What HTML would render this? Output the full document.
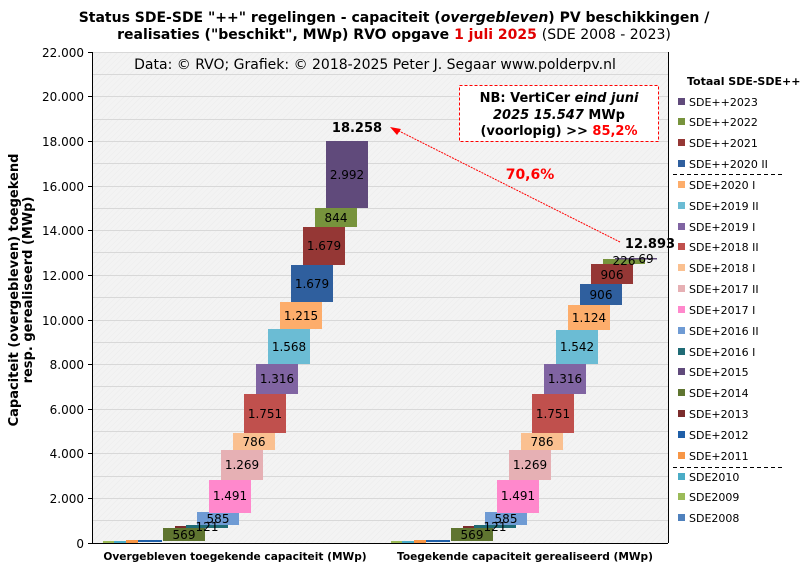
<!DOCTYPE html>
<html><head><meta charset="utf-8"><style>
body{margin:0;background:#fff}
svg{display:block;font-family:"DejaVu Sans","Liberation Sans",sans-serif}
</style></head><body>
<svg width="804" height="571" viewBox="0 0 804 571" xmlns="http://www.w3.org/2000/svg">
<defs><pattern id="hatch" width="4" height="4" patternUnits="userSpaceOnUse" patternTransform="rotate(45)"><rect width="4" height="4" fill="#f3f3f3"/><line x1="0" y1="0" x2="0" y2="4" stroke="#ebebeb" stroke-width="1"/></pattern></defs>
<rect x="92" y="52" width="576" height="491" fill="url(#hatch)"/>
<g stroke="#d8d8d8" stroke-width="1">
<line x1="92" x2="668" y1="52.5" y2="52.5"/><line x1="92" x2="668" y1="74.5" y2="74.5"/><line x1="92" x2="668" y1="96.5" y2="96.5"/><line x1="92" x2="668" y1="119.5" y2="119.5"/><line x1="92" x2="668" y1="141.5" y2="141.5"/><line x1="92" x2="668" y1="163.5" y2="163.5"/><line x1="92" x2="668" y1="186.5" y2="186.5"/><line x1="92" x2="668" y1="208.5" y2="208.5"/><line x1="92" x2="668" y1="230.5" y2="230.5"/><line x1="92" x2="668" y1="252.5" y2="252.5"/><line x1="92" x2="668" y1="275.5" y2="275.5"/><line x1="92" x2="668" y1="297.5" y2="297.5"/><line x1="92" x2="668" y1="320.5" y2="320.5"/><line x1="92" x2="668" y1="342.5" y2="342.5"/><line x1="92" x2="668" y1="364.5" y2="364.5"/><line x1="92" x2="668" y1="386.5" y2="386.5"/><line x1="92" x2="668" y1="409.5" y2="409.5"/><line x1="92" x2="668" y1="431.5" y2="431.5"/><line x1="92" x2="668" y1="453.5" y2="453.5"/><line x1="92" x2="668" y1="476.5" y2="476.5"/><line x1="92" x2="668" y1="498.5" y2="498.5"/><line x1="92" x2="668" y1="520.5" y2="520.5"/>
</g>
<line x1="92.5" y1="52" x2="92.5" y2="543" stroke="#000"/>
<line x1="92" y1="543.5" x2="668" y2="543.5" stroke="#000"/>
<line x1="668.5" y1="52" x2="668.5" y2="543" stroke="#000"/>
<g stroke="#000"><line x1="88" x2="92" y1="52.5" y2="52.5"/><line x1="88" x2="92" y1="96.5" y2="96.5"/><line x1="88" x2="92" y1="141.5" y2="141.5"/><line x1="88" x2="92" y1="186.5" y2="186.5"/><line x1="88" x2="92" y1="230.5" y2="230.5"/><line x1="88" x2="92" y1="275.5" y2="275.5"/><line x1="88" x2="92" y1="320.5" y2="320.5"/><line x1="88" x2="92" y1="364.5" y2="364.5"/><line x1="88" x2="92" y1="409.5" y2="409.5"/><line x1="88" x2="92" y1="453.5" y2="453.5"/><line x1="88" x2="92" y1="498.5" y2="498.5"/><line x1="88" x2="92" y1="543.5" y2="543.5"/></g>
<g font-size="12" text-anchor="end" fill="#000">
<text x="84" y="57">22.000</text><text x="84" y="101">20.000</text><text x="84" y="146">18.000</text><text x="84" y="191">16.000</text><text x="84" y="235">14.000</text><text x="84" y="280">12.000</text><text x="84" y="325">10.000</text><text x="84" y="369">8.000</text><text x="84" y="414">6.000</text><text x="84" y="458">4.000</text><text x="84" y="503">2.000</text><text x="84" y="548">0</text>
</g>
<text transform="translate(18,290) rotate(-90)" font-size="13" font-weight="bold" text-anchor="middle">Capaciteit (overgebleven) toegekend</text>
<text transform="translate(32,290) rotate(-90)" font-size="13" font-weight="bold" text-anchor="middle">resp. gerealiseerd (MWp)</text>
<text x="394" y="22" font-size="14" font-weight="bold" text-anchor="middle">Status SDE-SDE "++" regelingen - capaciteit (<tspan font-style="italic">overgebleven</tspan>) PV beschikkingen  /</text>
<text x="394" y="39" font-size="14" font-weight="bold" text-anchor="middle">realisaties ("beschikt", MWp) RVO opgave <tspan fill="#e00000">1 juli 2025</tspan> <tspan font-weight="normal">(SDE 2008 - 2023)</tspan></text>
<text x="375" y="69" font-size="14" text-anchor="middle">Data: © RVO; Grafiek: © 2018-2025 Peter J. Segaar www.polderpv.nl</text>
<g>
<rect x="103" y="541" width="11" height="2" fill="#9bbb59"/><rect x="114" y="541" width="12" height="2" fill="#4bacc6"/><rect x="126" y="540" width="12" height="3" fill="#f79646"/><rect x="138" y="540" width="24" height="2" fill="#1f5fa8"/>
<rect x="163" y="528" width="42" height="13" fill="#5f7530"/>
<rect x="175" y="526" width="30" height="2" fill="#7b2c2c"/>
<rect x="186" y="525" width="42" height="3" fill="#1f6b75"/>
<rect x="197" y="512" width="42" height="13" fill="#6f9bd4"/>
<rect x="209" y="480" width="42" height="33" fill="#ff88cc"/>
<rect x="221" y="450" width="42" height="30" fill="#e6b0b4"/>
<rect x="233" y="433" width="42" height="17" fill="#fac090"/>
<rect x="244" y="394" width="42" height="39" fill="#c0504d"/>
<rect x="256" y="364" width="42" height="30" fill="#8064a2"/>
<rect x="268" y="329" width="42" height="35" fill="#6bbcd4"/>
<rect x="280" y="302" width="42" height="27" fill="#fdad6b"/>
<rect x="291" y="265" width="42" height="37" fill="#2f5f9e"/>
<rect x="303" y="227" width="42" height="38" fill="#953735"/>
<rect x="315" y="208" width="42" height="19" fill="#77933c"/>
<rect x="326" y="141" width="42" height="67" fill="#604a7b"/>
</g>
<g font-size="12" text-anchor="middle" fill="#000">
<text x="184" y="539">569</text><text x="207" y="531">121</text><text x="218" y="523">585</text><text x="230" y="500">1.491</text><text x="242" y="469">1.269</text><text x="254" y="446">786</text><text x="265" y="418">1.751</text><text x="277" y="383">1.316</text><text x="289" y="351">1.568</text><text x="301" y="320">1.215</text><text x="312" y="288">1.679</text><text x="324" y="250">1.679</text><text x="336" y="222">844</text><text x="347" y="179">2.992</text>
</g>
<text x="357" y="132" font-size="13" font-weight="bold" text-anchor="middle">18.258</text>
<g>
<rect x="391" y="541" width="11" height="2" fill="#9bbb59"/><rect x="402" y="541" width="12" height="2" fill="#4bacc6"/><rect x="414" y="540" width="12" height="3" fill="#f79646"/><rect x="426" y="540" width="24" height="2" fill="#1f5fa8"/>
<rect x="451" y="528" width="42" height="13" fill="#5f7530"/>
<rect x="463" y="526" width="30" height="2" fill="#7b2c2c"/>
<rect x="474" y="525" width="42" height="3" fill="#1f6b75"/>
<rect x="485" y="512" width="42" height="13" fill="#6f9bd4"/>
<rect x="497" y="480" width="42" height="33" fill="#ff88cc"/>
<rect x="509" y="450" width="42" height="30" fill="#e6b0b4"/>
<rect x="521" y="433" width="42" height="17" fill="#fac090"/>
<rect x="532" y="394" width="42" height="39" fill="#c0504d"/>
<rect x="544" y="364" width="42" height="30" fill="#8064a2"/>
<rect x="556" y="330" width="42" height="34" fill="#6bbcd4"/>
<rect x="568" y="305" width="42" height="25" fill="#fdad6b"/>
<rect x="580" y="284" width="42" height="21" fill="#2f5f9e"/>
<rect x="591" y="264" width="42" height="20" fill="#953735"/>
<rect x="603" y="259" width="42" height="5" fill="#77933c"/>
<rect x="615" y="258" width="42" height="1.5" fill="#604a7b"/>
</g>
<g font-size="12" text-anchor="middle" fill="#000">
<text x="472" y="539">569</text><text x="495" y="531">121</text><text x="506" y="523">585</text><text x="518" y="500">1.491</text><text x="530" y="469">1.269</text><text x="542" y="446">786</text><text x="553" y="418">1.751</text><text x="565" y="383">1.316</text><text x="577" y="351">1.542</text><text x="589" y="322">1.124</text><text x="601" y="299">906</text><text x="612" y="279">906</text><text x="624" y="265">226</text><text x="646" y="263">69</text>
</g>
<text x="650" y="248" font-size="13" font-weight="bold" text-anchor="middle">12.893</text>
<line x1="620" y1="242" x2="395" y2="129" stroke="#ff0000" stroke-width="1" stroke-dasharray="2,1"/>
<polygon points="390,127 401,129 397,135" fill="#ff0000"/>
<text x="530" y="179" font-size="14" font-weight="bold" fill="#ff0000" text-anchor="middle">70,6%</text>
<rect x="459.5" y="85.5" width="199" height="56" fill="#fff" stroke="#ff0000" stroke-dasharray="3,2"/>
<g font-size="13" font-weight="bold" text-anchor="middle">
<text x="559" y="102">NB: VertiCer <tspan font-style="italic">eind juni</tspan></text>
<text x="559" y="119"><tspan font-style="italic">2025 15.547</tspan> MWp</text>
<text x="559" y="135">(voorlopig) &gt;&gt; <tspan fill="#ff0000">85,2%</tspan></text>
</g>
<g font-size="10.6" font-weight="bold" text-anchor="middle">
<text x="235" y="560">Overgebleven toegekende capaciteit (MWp)</text>
<text x="525" y="560">Toegekende capaciteit gerealiseerd (MWp)</text>
</g>
<text x="687" y="85" font-size="11" font-weight="bold">Totaal SDE-SDE++</text>
<g font-size="11">
<rect x="678" y="98" width="7" height="7" fill="#604a7b"/><text x="689" y="106">SDE++2023</text>
<rect x="678" y="118" width="7" height="7" fill="#77933c"/><text x="689" y="126">SDE++2022</text>
<rect x="678" y="139" width="7" height="7" fill="#953735"/><text x="689" y="147">SDE++2021</text>
<rect x="678" y="160" width="7" height="7" fill="#2f5f9e"/><text x="689" y="168">SDE++2020 II</text>
<line x1="673" y1="174.5" x2="783" y2="174.5" stroke="#000" stroke-dasharray="4,3"/>
<rect x="678" y="181" width="7" height="7" fill="#fdad6b"/><text x="689" y="189">SDE+2020 I</text>
<rect x="678" y="202" width="7" height="7" fill="#6bbcd4"/><text x="689" y="210">SDE+2019 II</text>
<rect x="678" y="223" width="7" height="7" fill="#8064a2"/><text x="689" y="231">SDE+2019 I</text>
<rect x="678" y="243" width="7" height="7" fill="#c0504d"/><text x="689" y="251">SDE+2018 II</text>
<rect x="678" y="264" width="7" height="7" fill="#fac090"/><text x="689" y="272">SDE+2018 I</text>
<rect x="678" y="285" width="7" height="7" fill="#e6b0b4"/><text x="689" y="293">SDE+2017 II</text>
<rect x="678" y="306" width="7" height="7" fill="#ff88cc"/><text x="689" y="314">SDE+2017 I</text>
<rect x="678" y="327" width="7" height="7" fill="#6f9bd4"/><text x="689" y="335">SDE+2016 II</text>
<rect x="678" y="348" width="7" height="7" fill="#1f6b75"/><text x="689" y="356">SDE+2016 I</text>
<rect x="678" y="368" width="7" height="7" fill="#604a7b"/><text x="689" y="376">SDE+2015</text>
<rect x="678" y="389" width="7" height="7" fill="#5f7530"/><text x="689" y="397">SDE+2014</text>
<rect x="678" y="410" width="7" height="7" fill="#7b2c2c"/><text x="689" y="418">SDE+2013</text>
<rect x="678" y="431" width="7" height="7" fill="#1f5fa8"/><text x="689" y="439">SDE+2012</text>
<rect x="678" y="452" width="7" height="7" fill="#f79646"/><text x="689" y="460">SDE+2011</text>
<line x1="673" y1="467.5" x2="783" y2="467.5" stroke="#000" stroke-dasharray="4,3"/>
<rect x="678" y="473" width="7" height="7" fill="#4bacc6"/><text x="689" y="481">SDE2010</text>
<rect x="678" y="493" width="7" height="7" fill="#9bbb59"/><text x="689" y="501">SDE2009</text>
<rect x="678" y="514" width="7" height="7" fill="#4f81bd"/><text x="689" y="522">SDE2008</text>
</g>
</svg>
</body></html>
